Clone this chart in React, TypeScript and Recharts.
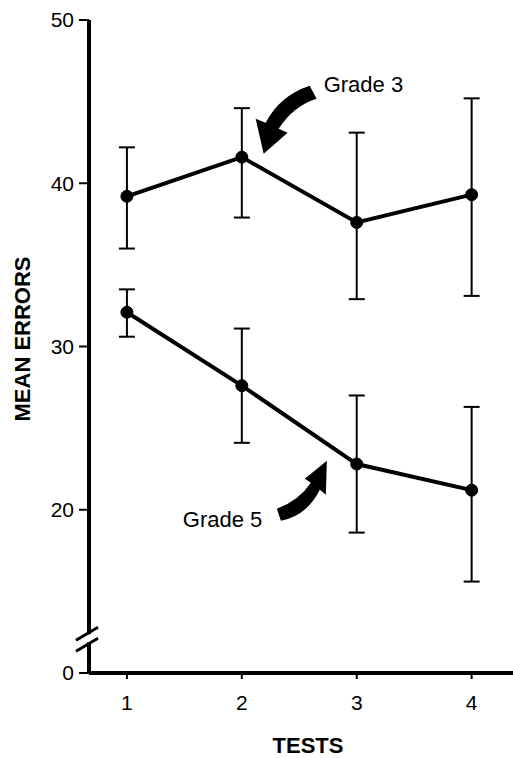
import React from 'react';
import { LineChart, Line, XAxis, YAxis, ErrorBar, ReferenceDot, Label } from 'recharts';

const tests = [1, 2, 3, 4];
const grade3Mean = [39.2, 41.6, 37.6, 39.3];
const grade3Low = [36.0, 37.9, 32.9, 33.1];
const grade3High = [42.2, 44.6, 43.1, 45.2];
const grade5Mean = [32.1, 27.6, 22.8, 21.2];
const grade5Low = [30.6, 24.1, 18.6, 15.6];
const grade5High = [33.5, 31.1, 27.0, 26.3];
const yTicks = [10, 20, 30, 40, 50];
const yTickLabels = ['0', '20', '30', '40', '50'];
const seriesNames = ['Grade 3', 'Grade 5'];
// annotation anchors (data coordinates of arrow tips)
const grade3ArrowTip = { x: 2.19, y: 41.8 };
const grade5ArrowTip = { x: 2.74, y: 23.0 };
const axisBreakAt = { x: 0.67, y: 12.5 };

const data = tests.map((t, i) => ({
  test: t,
  g3: grade3Mean[i],
  g3err: [grade3Mean[i] - grade3Low[i], grade3High[i] - grade3Mean[i]],
  g5: grade5Mean[i],
  g5err: [grade5Mean[i] - grade5Low[i], grade5High[i] - grade5Mean[i]],
}));

const FONT = '"Liberation Sans", Arial, Helvetica, sans-serif';

const Grade3Arrow = (props: any) => {
  const { cx, cy } = props;
  if (cx == null || cy == null) return <g />;
  return (
    <g>
      <path
        transform={`translate(${cx},${cy})`}
        d="M0,0 L-8,-35 L2,-31 Q16,-58 46,-68 L53,-55 Q30,-48 15,-25 L24,-21 Z"
        fill="#000"
      />
      <text x={cx + 60} y={cy - 62} fontFamily={FONT} fontSize={22} fill="#000">
        {seriesNames[0]}
      </text>
    </g>
  );
};

const Grade5Arrow = (props: any) => {
  const { cx, cy } = props;
  if (cx == null || cy == null) return <g />;
  return (
    <g>
      <path
        transform={`translate(${cx},${cy})`}
        d="M0,0 L-22,18 L-16,22 Q-28,40 -50,48 L-46,60 Q-20,55 -7,29 L-1,34 Z"
        fill="#000"
      />
      <text x={cx - 144} y={cy + 66} fontFamily={FONT} fontSize={22} fill="#000">
        {seriesNames[1]}
      </text>
    </g>
  );
};

const AxisBreak = (props: any) => {
  const { cx, cy } = props;
  if (cx == null || cy == null) return <g />;
  return (
    <g transform={`translate(${cx},${cy})`}>
      <rect x={-4} y={2} width={8} height={8} fill="#fff" />
      <line x1={-13} y1={8} x2={9} y2={-5} stroke="#000" strokeWidth={3} />
      <line x1={-13} y1={19} x2={9} y2={6} stroke="#000" strokeWidth={3} />
    </g>
  );
};

const YTitle = (props: any) => {
  const vb = props.viewBox || { x: 0, y: 20 };
  const x = vb.x + 22;
  const y = vb.y + 319;
  return (
    <text
      x={x}
      y={y}
      transform={`rotate(-90, ${x}, ${y})`}
      textAnchor="middle"
      dominantBaseline="central"
      fontFamily={FONT}
      fontWeight="bold"
      fontSize={22}
      fill="#000"
    >
      MEAN ERRORS
    </text>
  );
};

const XTitle = (props: any) => {
  const vb = props.viewBox || { x: 89, y: 673, width: 424 };
  const x = vb.x + vb.width / 2 + 7;
  const y = vb.y + 80;
  return (
    <text x={x} y={y} textAnchor="middle" fontFamily={FONT} fontWeight="bold" fontSize={22} fill="#000">
      TESTS
    </text>
  );
};

export default function App() {
  return (
    <div style={{ position: 'absolute', left: 0, top: 0, width: 513, height: 758, background: '#fff' }}>
      <LineChart width={513} height={758} data={data} margin={{ top: 20, right: 0, bottom: 0, left: 0 }}>
        <XAxis
          dataKey="test"
          type="number"
          domain={[0.67, 4.36]}
          ticks={tests}
          allowDataOverflow
          height={85}
          tickSize={6}
          tickMargin={16}
          axisLine={{ stroke: '#000', strokeWidth: 4 }}
          tickLine={{ stroke: '#000', strokeWidth: 2 }}
          tick={{ fill: '#000', fontSize: 21, fontFamily: FONT }}
        >
          <Label content={XTitle} />
        </XAxis>
        <YAxis
          type="number"
          domain={[10, 50]}
          ticks={yTicks}
          allowDataOverflow
          width={89}
          tickSize={10}
          tickMargin={5}
          tickFormatter={(v: number) => yTickLabels[yTicks.indexOf(v)] ?? String(v)}
          axisLine={{ stroke: '#000', strokeWidth: 4 }}
          tickLine={{ stroke: '#000', strokeWidth: 2 }}
          tick={{ fill: '#000', fontSize: 21, fontFamily: FONT }}
        >
          <Label content={YTitle} />
        </YAxis>
        <Line
          dataKey="g3"
          name={seriesNames[0]}
          stroke="#000"
          strokeWidth={4}
          dot={{ r: 6, fill: '#000', stroke: '#000', strokeWidth: 1 }}
          isAnimationActive={false}
        >
          <ErrorBar dataKey="g3err" direction="y" width={8} stroke="#000" strokeWidth={2} />
        </Line>
        <Line
          dataKey="g5"
          name={seriesNames[1]}
          stroke="#000"
          strokeWidth={4}
          dot={{ r: 6, fill: '#000', stroke: '#000', strokeWidth: 1 }}
          isAnimationActive={false}
        >
          <ErrorBar dataKey="g5err" direction="y" width={8} stroke="#000" strokeWidth={2} />
        </Line>
        <ReferenceDot x={grade3ArrowTip.x} y={grade3ArrowTip.y} shape={Grade3Arrow} ifOverflow="visible" />
        <ReferenceDot x={grade5ArrowTip.x} y={grade5ArrowTip.y} shape={Grade5Arrow} ifOverflow="visible" />
        <ReferenceDot x={axisBreakAt.x} y={axisBreakAt.y} shape={AxisBreak} ifOverflow="visible" />
      </LineChart>
    </div>
  );
}
